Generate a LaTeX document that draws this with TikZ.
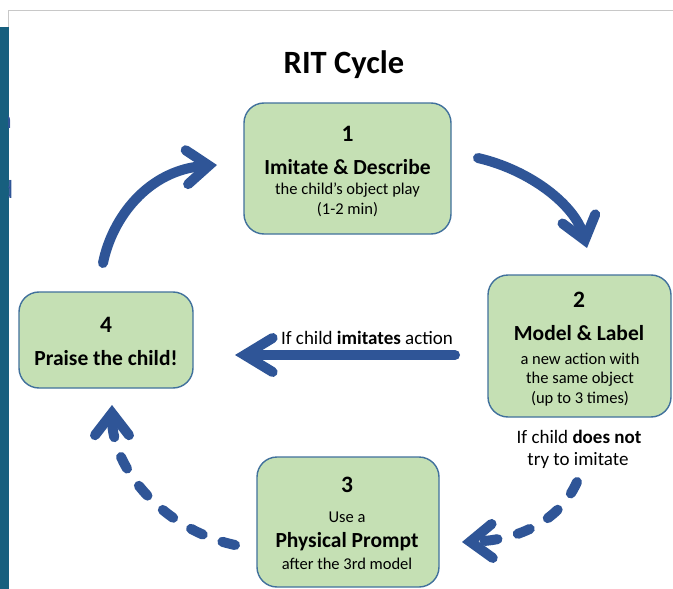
\documentclass[tikz,border=0pt]{standalone}
\usepackage{fontspec}
\setmainfont{Carlito}
\usetikzlibrary{arrows.meta}
\definecolor{arrowblue}{HTML}{2F5597}
\definecolor{boxfill}{HTML}{C5E0B4}
\definecolor{boxline}{HTML}{41719C}
\definecolor{barteal}{HTML}{175F7E}
\definecolor{frameline}{HTML}{C8C8C8}
\begin{document}
\begin{tikzpicture}[x=1pt,y=-1pt,
  stepbox/.style={draw=boxline, fill=boxfill, line width=1.4pt, rounded corners=20pt, inner sep=0pt, outer sep=0pt},
  numtxt/.style={font=\fontsize{23.5}{27}\selectfont\bfseries, inner sep=0pt},
  headtxt/.style={font=\fontsize{21.5}{25}\selectfont\bfseries, inner sep=0pt},
  desctxt/.style={font=\fontsize{16.5}{20}\selectfont, inner sep=0pt},
  labtxt/.style={font=\fontsize{19}{23}\selectfont, inner sep=0pt},
  flow/.style={draw=arrowblue, line width=10pt, line cap=round},
  flowdash/.style={flow, dash pattern=on 13pt off 21pt},
  barbtip/.style={-{Straight Barb[length=#1, width=34pt, line cap=round, line join=miter]}},
  barbtip/.default=22pt]
\useasboundingbox (0,0) rectangle (673,589);
% frame and side bar
\fill[white] (0,0) rectangle (673,589);
\draw[frameline, line width=1pt] (8.5,589) -- (8.5,10) -- (673,10);
\fill[barteal] (0,27) rectangle (8.5,589);
\begin{scope}
  \clip (8.5,100) rectangle (14,210);
  \node[anchor=base east, inner sep=0pt, text=arrowblue, font=\fontsize{26}{30}\selectfont] (cutn) at (12,128) {n};
  \node[anchor=base east, inner sep=0pt, text=arrowblue, font=\fontsize{26}{30}\selectfont] (cutd) at (13.5,198) {d};
\end{scope}
% title
\node[anchor=base, inner sep=0pt, font=\fontsize{32.5}{38}\selectfont\bfseries] (title) at (344,73.5) {RIT Cycle};
% boxes
\node[stepbox, minimum width=207pt, minimum height=131pt] (b1) at (347.5,168.5) {};
\node[stepbox, minimum width=183pt, minimum height=142pt] (b2) at (579.5,346) {};
\node[stepbox, minimum width=182pt, minimum height=130pt] (b3) at (348,522) {};
\node[stepbox, minimum width=174pt, minimum height=96pt] (b4) at (106,340) {};
% box 1 text
\node[numtxt] (n1) at (347.5,133.7) {1};
\node[headtxt] (h1) at (347.5,167) {Imitate \& Describe};
\node[desctxt] (d1a) at (347.5,189.7) {the child’s object play};
\node[desctxt] (d1b) at (347.5,210) {(1-2 min)};
% box 2 text
\node[numtxt] (n2) at (579,300) {2};
\node[headtxt] (h2) at (579,333) {Model \& Label};
\node[desctxt] (d2a) at (580,359) {a new action with};
\node[desctxt] (d2b) at (580,379) {the same object};
\node[desctxt] (d2c) at (580,399) {(up to 3 times)};
% box 3 text
\node[numtxt] (n3) at (347,485) {3};
\node[desctxt] (d3a) at (347,517) {Use a};
\node[headtxt] (h3) at (347,542) {Physical Prompt};
\node[desctxt] (d3b) at (347,564) {after the 3rd model};
% box 4 text
\node[numtxt] (n4) at (106,325) {4};
\node[headtxt] (h4) at (106,358) {Praise the child!};
% labels
\node[labtxt] (l1) at (367,338) {If child \textbf{imitates} action};
\node[labtxt] (l2) at (579,437) {If child \textbf{does not}};
\node[labtxt] (l3) at (578,460.5) {try to imitate};
% connector end points
\coordinate (a1s) at (103,263);
\coordinate (a1e) at (217,165);
\coordinate (a2s) at (478,158);
\coordinate (a2e) at (587,248);
\coordinate (a3s) at (455,355);
\coordinate (a3e) at (235,355);
\coordinate (a4s) at (577,482);
\coordinate (a4e) at (462,542);
\coordinate (a5s) at (235,545);
\coordinate (a5e) at (112,405);
% arrows
\draw[flow, barbtip] (a1s) .. controls (112,218) and (148,170) .. (a1e);
\draw[flow, barbtip] (a2s) .. controls (530,170) and (575,205) .. (a2e);
\draw[flow, barbtip=28pt] (a3s) -- (a3e);
\draw[flowdash, barbtip] (a4s) .. controls (560,520) and (520,540) .. (a4e);
\draw[flowdash, barbtip] (a5s) .. controls (165,530) and (112,470) .. (a5e);
\end{tikzpicture}
\end{document}
